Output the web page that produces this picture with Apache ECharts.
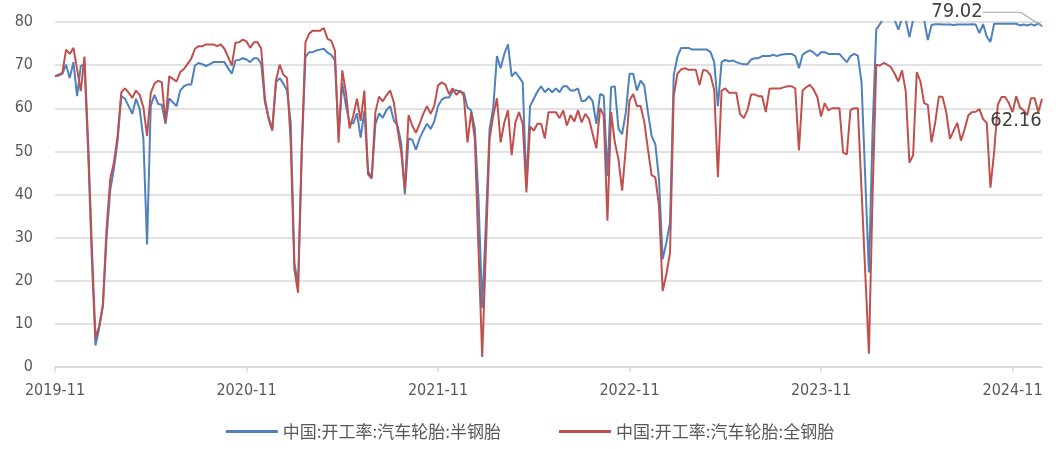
<!DOCTYPE html>
<html>
<head>
<meta charset="utf-8">
<script src="https://cdn.jsdelivr.net/npm/echarts@6/dist/echarts.min.js"></script>
<style>
  html, body { margin: 0; padding: 0; background: #fff; }
  #chart { width: 1060px; height: 449px; }
</style>
</head>
<body>
<div id="chart"></div>
<script>
// weekly readings, first week 2019-11-08
const startWeek = '2019-11-08';
const tickLabels = ['2019-11', '2020-11', '2021-11', '2022-11', '2023-11', '2024-11'];
const weeksPerTick = 52;

// 中国:开工率:汽车轮胎:半钢胎
const semiSteel = [
  67.4, 67.6, 68.0, 70.1, 67.0, 70.7, 62.8, 69.8, 70.1, 50.0,
  25.0, 5.0, 9.0, 14.0, 30.0, 41.0, 46.0, 52.5, 62.8, 62.2,
  60.5, 58.7, 62.2, 59.8, 52.9, 28.4, 60.6, 63.1, 61.0, 60.8,
  56.4, 62.3, 61.4, 60.5, 64.1, 65.1, 65.5, 65.5, 69.9, 70.5,
  70.2, 69.8, 70.2, 70.7, 70.7, 70.7, 70.7, 69.3, 68.0, 71.1,
  71.2, 71.6, 71.3, 70.7, 71.6, 71.6, 70.3, 61.4, 57.9, 55.2,
  66.0, 67.0, 65.7, 64.1, 56.7, 24.2, 19.0, 50.0, 71.9, 73.0,
  73.0, 73.4, 73.6, 73.8, 72.9, 72.4, 71.1, 54.0, 65.8, 60.6,
  56.5, 56.5, 58.8, 53.2, 59.4, 45.4, 44.0, 56.3, 58.8, 57.8,
  59.6, 60.5, 57.2, 56.0, 52.0, 40.0, 53.0, 52.7, 50.4, 53.0,
  54.8, 56.4, 55.2, 57.0, 60.5, 62.0, 62.5, 62.5, 64.0, 64.2,
  63.8, 63.6, 60.2, 59.5, 55.3, 38.9, 13.7, 33.5, 55.2, 60.2,
  72.1, 69.3, 72.6, 74.8, 67.4, 68.4, 67.2, 66.0, 42.0, 60.5,
  62.2, 63.9, 65.1, 63.7, 64.6, 63.7, 64.6, 63.7, 65.1, 65.1,
  64.1, 64.1, 64.6, 61.6, 61.8, 62.8, 61.6, 56.4, 63.3, 62.9,
  44.3, 64.9, 65.1, 55.2, 54.0, 59.1, 68.0, 68.0, 64.1, 66.4,
  65.3, 59.1, 53.6, 51.7, 43.6, 25.0, 28.8, 33.5, 67.6, 71.9,
  74.0, 74.0, 74.0, 73.6, 73.6, 73.6, 73.6, 73.6, 73.0, 70.7,
  60.5, 70.7, 71.2, 70.9, 71.1, 70.7, 70.4, 70.2, 70.2, 71.3,
  71.6, 71.6, 72.1, 72.1, 72.1, 72.4, 72.1, 72.4, 72.5, 72.6,
  72.6, 72.1, 69.3, 72.4, 73.0, 73.4, 72.9, 72.1, 73.0, 73.0,
  72.6, 72.6, 72.6, 72.6, 71.6, 70.7, 72.1, 72.6, 72.2, 66.0,
  44.0, 21.9, 55.0, 78.3, 79.5, 81.0, 81.5, 81.0, 80.5, 78.2,
  81.0, 80.5, 76.5, 80.5, 81.0, 81.0, 80.5, 75.8, 79.3, 79.5,
  79.5, 79.4, 79.4, 79.4, 79.3, 79.4, 79.4, 79.4, 79.4, 79.5,
  79.4, 77.4, 79.5, 76.6, 75.4, 79.6, 79.6, 79.6, 79.6, 79.6,
  79.6, 79.6, 79.2, 79.4, 79.2, 79.5, 79.2, 79.7, 79.02
];

// 中国:开工率:汽车轮胎:全钢胎
const allSteel = [
  67.4, 67.8, 68.2, 73.6, 72.6, 74.0, 69.0, 64.0, 72.0, 52.0,
  28.0, 6.7, 9.5, 14.5, 32.0, 43.6, 47.4, 53.6, 63.7, 64.6,
  63.6, 62.4, 64.1, 63.1, 60.2, 53.6, 63.5, 65.7, 66.4, 66.0,
  56.7, 67.4, 66.8, 66.2, 68.4, 69.1, 70.3, 71.5, 73.8, 74.4,
  74.4, 74.8, 74.8, 74.8, 74.4, 74.8, 73.8, 71.9, 69.9, 75.2,
  75.3, 75.9, 75.5, 74.0, 75.3, 75.3, 73.8, 62.2, 57.5, 54.8,
  66.4, 70.1, 67.8, 67.0, 52.0, 22.6, 17.2, 50.5, 75.3, 77.3,
  78.0, 78.0, 78.0, 78.6, 76.1, 75.7, 73.4, 52.0, 68.8, 63.7,
  55.3, 58.3, 62.2, 57.1, 64.1, 44.7, 43.7, 59.1, 62.7, 61.6,
  63.0, 64.1, 61.4, 55.2, 49.8, 41.2, 58.4, 56.0, 54.3, 56.4,
  58.7, 60.5, 58.7, 60.6, 65.3, 66.0, 65.5, 63.3, 64.6, 63.1,
  64.1, 62.9, 52.1, 59.1, 52.9, 27.3, 2.3, 27.3, 52.9, 58.3,
  62.3, 52.1, 56.7, 59.5, 49.1, 56.7, 59.1, 56.4, 40.5, 55.8,
  54.8, 56.4, 56.4, 53.0, 59.1, 59.1, 59.1, 57.7, 59.5, 56.0,
  58.4, 56.9, 59.5, 56.7, 58.7, 57.5, 54.0, 50.7, 60.0, 58.3,
  33.9, 59.1, 52.1, 48.2, 40.9, 50.9, 61.8, 63.3, 60.5, 60.5,
  56.9, 50.5, 44.5, 44.0, 37.4, 17.6, 21.5, 26.5, 62.9, 68.0,
  69.0, 69.3, 68.9, 68.9, 68.9, 65.4, 68.9, 68.7, 67.6, 64.3,
  44.0, 64.1, 64.6, 63.6, 63.6, 63.6, 58.7, 57.7, 59.5, 63.2,
  63.2, 62.8, 62.8, 59.1, 64.5, 64.6, 64.6, 64.6, 64.9, 65.1,
  65.1, 64.6, 50.2, 64.1, 64.9, 65.4, 64.3, 62.6, 58.1, 61.2,
  59.5, 60.0, 60.0, 60.0, 49.7, 49.3, 59.6, 60.0, 60.0, 41.0,
  22.0, 3.1, 40.0, 70.1, 69.9, 70.5, 70.1, 69.5, 68.0, 66.2,
  68.8, 63.9, 47.4, 49.1, 68.4, 66.2, 61.2, 60.8, 52.1, 56.7,
  62.7, 62.6, 59.1, 52.9, 54.8, 56.6, 52.5, 55.2, 58.4, 59.1,
  59.2, 59.8, 57.5, 56.6, 41.6, 49.8, 60.8, 62.6, 62.6, 61.2,
  59.1, 62.8, 60.2, 59.5, 58.4, 62.3, 62.3, 59.1, 62.16
];

const seriesNames = ['中国:开工率:汽车轮胎:半钢胎', '中国:开工率:汽车轮胎:全钢胎'];
const colors = ['#4F81BD', '#C0504D'];

// weekly category dates
const weeks = [];
{
  const d0 = new Date(startWeek + 'T00:00:00Z');
  for (let i = 0; i < semiSteel.length; i++) {
    const d = new Date(d0.getTime() + i * 7 * 86400000);
    weeks.push(d.toISOString().slice(0, 10));
  }
}

const axisFont = "'DejaVu Sans Condensed', 'DejaVu Sans', sans-serif";

// data label only on the last point (tiny symbol so the label gets drawn)
function withEndLabel(values, labelOpt) {
  return values.map((v, i) => {
    if (i !== values.length - 1) return v;
    return { value: v, symbol: 'circle', symbolSize: 1, label: labelOpt };
  });
}

const endLabelStyle = {
  show: true,
  position: 'inside',
  fontFamily: axisFont,
  fontSize: 20,
  color: '#404040',
  formatter: (p) => p.value.toFixed(2)
};

const chart = echarts.init(document.getElementById('chart'), null, { renderer: 'canvas' });

const option = {
  animation: false,
  backgroundColor: '#ffffff',
  grid: { left: 55, right: 18, top: 22, bottom: 82, containLabel: false },
  legend: {
    bottom: 4,
    left: 'center',
    itemWidth: 52,
    itemHeight: 3,
    itemGap: 58,
    icon: 'rect',
    textStyle: { fontFamily: "'Noto Sans CJK SC', sans-serif", fontSize: 17, color: '#595959' },
    data: seriesNames
  },
  xAxis: {
    type: 'category',
    data: weeks,
    boundaryGap: false,
    axisLine: { show: true, lineStyle: { color: '#d9d9d9', width: 1.5 } },
    axisTick: { show: true, interval: weeksPerTick - 1, length: 5, lineStyle: { color: '#d9d9d9', width: 1.5 } },
    axisLabel: {
      interval: weeksPerTick - 1,
      margin: 16,
      fontFamily: axisFont,
      fontSize: 16,
      color: '#595959',
      formatter: (val, idx) => tickLabels[Math.round(idx / weeksPerTick)] || ''
    },
    splitLine: { show: false }
  },
  yAxis: {
    type: 'value',
    min: 0,
    max: 80,
    interval: 10,
    axisLine: { show: false },
    axisTick: { show: false },
    axisLabel: { margin: 22, fontFamily: axisFont, fontSize: 16, color: '#595959' },
    splitLine: { lineStyle: { color: '#d9d9d9', width: 1.5 } }
  },
  series: [
    {
      name: seriesNames[0],
      type: 'line',
      data: withEndLabel(semiSteel, Object.assign({}, endLabelStyle)),
      symbol: 'circle',
      symbolSize: 0,
      showSymbol: true,
      showAllSymbol: true,
      clip: true,
      color: colors[0],
      itemStyle: { color: colors[0] },
      lineStyle: { width: 2, color: colors[0] },
      labelLayout: { dx: -85, dy: -14 },
      labelLine: { show: true, length2: 38, lineStyle: { color: '#a6a6a6', width: 1.2 } },
      z: 2
    },
    {
      name: seriesNames[1],
      type: 'line',
      data: withEndLabel(allSteel, Object.assign({}, endLabelStyle)),
      symbol: 'circle',
      symbolSize: 0,
      showSymbol: true,
      showAllSymbol: true,
      clip: true,
      color: colors[1],
      itemStyle: { color: colors[1] },
      lineStyle: { width: 2, color: colors[1] },
      labelLayout: { dx: -26, dy: 22 },
      z: 3
    }
  ]
};

chart.setOption(option);
</script>
</body>
</html>
